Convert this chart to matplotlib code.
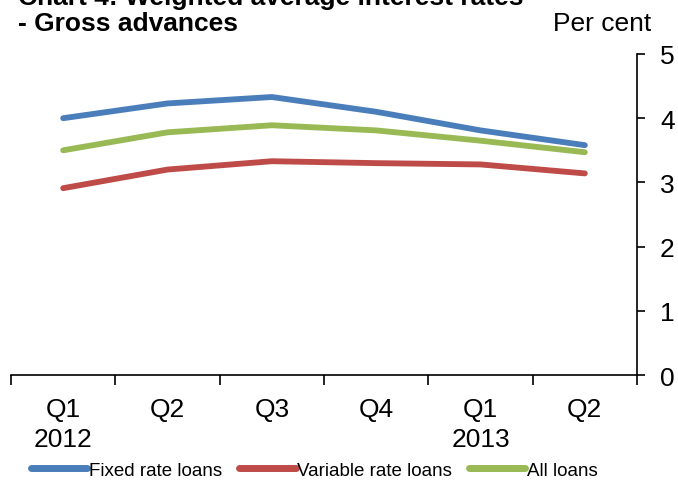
import matplotlib.pyplot as plt
from matplotlib.lines import Line2D

plt.rcParams['font.family'] = ['Liberation Sans', 'DejaVu Sans']

quarters = ['Q1', 'Q2', 'Q3', 'Q4', 'Q1', 'Q2']
years = ['2012', '', '', '', '2013', '']
fixed_rate = [4.00, 4.23, 4.33, 4.10, 3.81, 3.58]
variable_rate = [2.91, 3.20, 3.33, 3.30, 3.28, 3.14]
all_loans = [3.50, 3.78, 3.89, 3.81, 3.65, 3.47]

BLUE = '#4a7ebb'
RED = '#be4b48'
GREEN = '#98b954'

fig = plt.figure(figsize=(6.78, 4.81), dpi=100)
ax = fig.add_axes([11 / 678, 1 - 376 / 481, (637 - 11) / 678, (376 - 55) / 481])

x = list(range(len(quarters)))
ax.plot(x, fixed_rate, color=BLUE, lw=4.2, solid_capstyle='round')
ax.plot(x, variable_rate, color=RED, lw=4.2, solid_capstyle='round')
ax.plot(x, all_loans, color=GREEN, lw=4.2, solid_capstyle='round')

ax.set_xlim(-0.5, len(quarters) - 0.5)
ax.set_ylim(0, 5)

for s in ['top', 'left']:
    ax.spines[s].set_visible(False)
for s in ['right', 'bottom']:
    ax.spines[s].set_linewidth(1.2)

ax.yaxis.tick_right()
ax.set_yticks([0, 1, 2, 3, 4, 5])
ax.tick_params(axis='y', direction='out', length=5.5, width=1.2, labelsize=19, pad=11)

ax.set_xticks([i - 0.5 for i in range(len(quarters) + 1)])
ax.set_xticklabels([])
ax.tick_params(axis='x', direction='out', length=7, width=1.2)
ax.set_xticks(x, minor=True)
ax.set_xticklabels([q + '\n' + y for q, y in zip(quarters, years)], minor=True,
                   fontsize=19, linespacing=1.3, va='top')
ax.tick_params(axis='x', which='minor', length=0, pad=16)

fig.text(18 / 678, 1 - 5 / 481, 'Chart 4: Weighted average interest rates',
         fontsize=19, fontweight='bold', ha='left', va='baseline')
fig.text(18 / 678, 1 - 31 / 481, '- Gross advances',
         fontsize=19, fontweight='bold', ha='left', va='baseline')
fig.text(651 / 678, 1 - 31 / 481, 'Per cent', fontsize=19, ha='right', va='baseline')

handles = [Line2D([0], [0], color=BLUE, lw=5, solid_capstyle='round'),
           Line2D([0], [0], color=RED, lw=5, solid_capstyle='round'),
           Line2D([0], [0], color=GREEN, lw=5, solid_capstyle='round')]
fig.legend(handles, ['Fixed rate loans', 'Variable rate loans', 'All loans'],
           loc='center', bbox_to_anchor=(0.464, 1 - 471 / 481), ncol=3, frameon=False,
           fontsize=13.5, handlelength=3.0, handletextpad=0.1, columnspacing=0.9)

fig.savefig('out.png', dpi=100)
